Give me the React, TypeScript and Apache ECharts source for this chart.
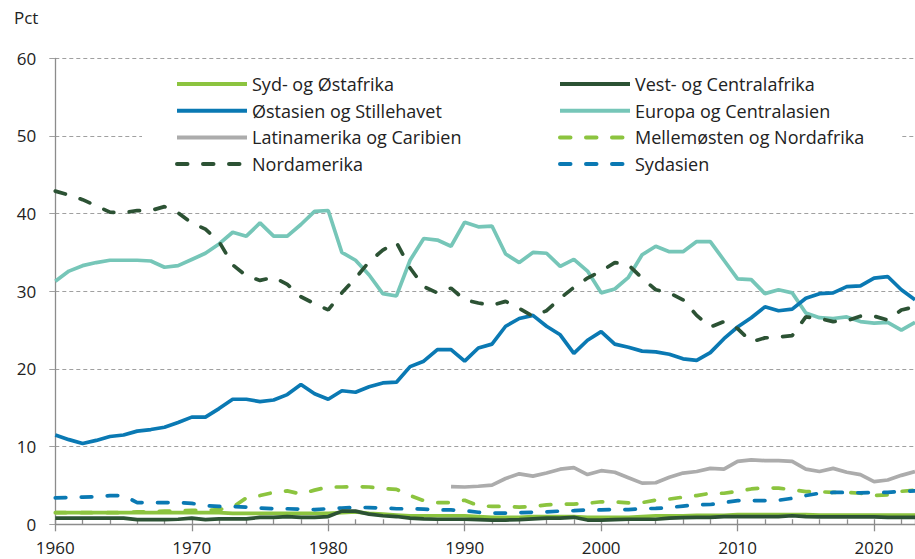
import React, { useEffect, useRef } from "react";
import * as echarts from "echarts";

const years: number[] = [];
for (let y = 1960; y <= 2023; y++) years.push(y);

const sydOstafrika = [
  1.5, 1.5, 1.5, 1.5, 1.5, 1.5, 1.5, 1.5, 1.5, 1.5,
  1.5, 1.5, 1.5, 1.4, 1.4, 1.4, 1.4, 1.4, 1.4, 1.4,
  1.4, 1.5, 1.6, 1.4, 1.3, 1.2, 1.1, 1.1, 1.1, 1.1,
  1.1, 1.0, 0.9, 0.9, 0.9, 1.0, 1.0, 1.0, 1.0, 0.9,
  0.9, 0.9, 0.9, 1.0, 1.1, 1.1, 1.1, 1.15, 1.15, 1.15,
  1.25, 1.25, 1.25, 1.25, 1.25, 1.25, 1.2, 1.2, 1.2, 1.2,
  1.2, 1.2, 1.2, 1.2,
];
const vestCentralafrika = [
  0.8, 0.8, 0.8, 0.8, 0.8, 0.8, 0.6, 0.6, 0.6, 0.65,
  0.8, 0.6, 0.7, 0.7, 0.7, 0.9, 0.9, 1.0, 0.9, 0.9,
  1.0, 1.7, 1.7, 1.3, 1.1, 1.0, 0.8, 0.7, 0.65, 0.65,
  0.65, 0.6, 0.55, 0.55, 0.6, 0.7, 0.8, 0.8, 0.9, 0.55,
  0.55, 0.6, 0.65, 0.65, 0.65, 0.8, 0.85, 0.9, 0.9, 1.0,
  1.0, 1.0, 1.0, 1.0, 1.1, 1.0, 0.95, 0.95, 0.95, 0.95,
  0.95, 0.9, 0.9, 0.9,
];
const ostasien = [
  11.5, 10.9, 10.4, 10.8, 11.3, 11.5, 12.0, 12.2, 12.5, 13.1,
  13.8, 13.8, 14.9, 16.1, 16.1, 15.8, 16.0, 16.7, 18.0, 16.8,
  16.1, 17.2, 17.0, 17.7, 18.2, 18.3, 20.3, 21.0, 22.5, 22.5,
  21.0, 22.7, 23.2, 25.5, 26.5, 26.9, 25.5, 24.4, 22.0, 23.7,
  24.8, 23.2, 22.8, 22.3, 22.2, 21.9, 21.3, 21.1, 22.1, 23.9,
  25.4, 26.6, 28.0, 27.5, 27.7, 29.1, 29.7, 29.8, 30.6, 30.7,
  31.7, 31.9, 30.2, 28.9,
];
const europa = [
  31.3, 32.6, 33.3, 33.7, 34.0, 34.0, 34.0, 33.9, 33.1, 33.3,
  34.1, 34.9, 36.1, 37.6, 37.1, 38.8, 37.1, 37.1, 38.6, 40.3,
  40.4, 35.0, 34.0, 32.1, 29.7, 29.4, 34.0, 36.8, 36.6, 35.8,
  38.9, 38.3, 38.4, 34.8, 33.7, 35.0, 34.9, 33.2, 34.1, 32.6,
  29.8, 30.3, 31.8, 34.7, 35.8, 35.1, 35.1, 36.4, 36.4, 34.0,
  31.6, 31.5, 29.7, 30.2, 29.8, 27.2, 26.6, 26.5, 26.7, 26.1,
  25.9, 26.0, 25.0, 26.0,
];
const latinamerika = [
  null, null, null, null, null, null, null, null, null, null,
  null, null, null, null, null, null, null, null, null, null,
  null, null, null, null, null, null, null, null, null, 4.85,
  4.8, 4.9, 5.05, 5.9, 6.5, 6.2, 6.6, 7.1, 7.3, 6.4,
  6.9, 6.7, 6.0, 5.3, 5.35, 6.05, 6.6, 6.8, 7.2, 7.1,
  8.1, 8.3, 8.2, 8.2, 8.1, 7.1, 6.8, 7.2, 6.7, 6.4,
  5.5, 5.7, 6.3, 6.8,
];
const mellemosten = [
  1.5, 1.5, 1.5, 1.5, 1.5, 1.5, 1.6, 1.6, 1.7, 1.7,
  1.8, 1.8, 1.9, 2.2, 3.4, 3.7, 4.1, 4.3, 3.9, 4.4,
  4.8, 4.8, 4.85, 4.8, 4.6, 4.5, 3.7, 3.05, 2.8, 2.8,
  3.1, 2.4, 2.3, 2.3, 2.2, 2.3, 2.5, 2.6, 2.6, 2.7,
  2.9, 2.9, 2.75, 2.8, 3.1, 3.25, 3.5, 3.7, 4.0, 4.0,
  4.25, 4.55, 4.7, 4.65, 4.45, 4.2, 4.2, 4.1, 4.1, 4.0,
  3.7, 3.8, 4.25, 4.4,
];
const nordamerika = [
  42.9, 42.4, 41.8, 41.0, 40.2, 40.1, 40.4, 40.4, 40.9, 40.1,
  38.8, 38.0, 36.4, 33.4, 32.0, 31.4, 31.8, 30.9, 29.3, 28.4,
  27.6, 29.8, 31.7, 33.8, 35.3, 36.3, 33.0, 30.6, 29.8, 30.4,
  28.9, 28.5, 28.2, 28.7, 27.8, 26.8, 27.5, 29.1, 30.5, 31.7,
  32.6, 33.7, 33.4, 31.7, 30.2, 29.8, 28.9, 26.9, 25.4, 26.1,
  25.2, 23.5, 24.0, 24.1, 24.3, 26.7, 26.5, 26.1, 26.2, 26.8,
  26.8, 26.3, 27.6, 28.0,
];
const sydasien = [
  3.4, 3.45, 3.5, 3.55, 3.7, 3.7, 2.8, 2.8, 2.8, 2.8,
  2.7, 2.4, 2.3, 2.3, 2.2, 2.1, 2.0, 2.0, 1.95, 1.9,
  2.0, 2.1, 2.2, 2.15, 2.1, 2.0, 2.0, 1.95, 1.85, 1.85,
  1.75, 1.55, 1.45, 1.45, 1.5, 1.55, 1.6, 1.7, 1.75, 1.85,
  1.85, 1.9, 1.9, 2.0, 2.05, 2.15, 2.35, 2.5, 2.55, 2.8,
  3.05, 3.05, 3.05, 3.1, 3.35, 3.7, 4.0, 4.1, 4.1, 4.05,
  4.1, 4.1, 4.25, 4.3,
];

const yTicks = [0, 10, 20, 30, 40, 50, 60];

const C_LIGHTGREEN = "#8cc43f";
const C_DARKGREEN = "#2c5234";
const C_BLUE = "#0a79b3";
const C_TEAL = "#76c6b8";
const C_GRAY = "#acacac";

const FONT = "'Open Sans', 'Noto Sans', sans-serif";

function pairs(vals: (number | null)[]) {
  return years.map((y, i) => [y, vals[i]]);
}

export default function App() {
  const ref = useRef<HTMLDivElement>(null);
  useEffect(() => {
    if (!ref.current) return;
    const chart = echarts.init(ref.current, undefined, { renderer: "svg" });
    const dash = [10.5, 15.5];
    const lw = 3.7;
    const mk = (name: string, data: (number | null)[], color: string, dashed: boolean, z: number) => ({
      name,
      type: "line",
      xAxisIndex: 0,
      data: pairs(data),
      symbol: "none",
      showSymbol: false,
      connectNulls: false,
      z,
      lineStyle: dashed
        ? { color, width: lw, type: dash, cap: "round" }
        : { color, width: lw, type: "solid" },
      itemStyle: { color },
    });
    const legendCommon = {
      orient: "vertical",
      itemWidth: 70,
      itemHeight: 14,
      itemGap: 6.7,
      padding: 0,
      itemStyle: { opacity: 0 },
      lineStyle: { width: 4 },
      textStyle: { fontFamily: FONT, fontSize: 18, color: "#222", lineHeight: 20 },
      selectedMode: false,
    };
    chart.setOption({
      animation: false,
      textStyle: { fontFamily: FONT },
      grid: { left: 55.3, top: 58.3, width: 866.25, height: 466 },
      xAxis: [
        {
          type: "value",
          min: 1960,
          max: 2023,
          interval: 2,
          axisLine: { show: true, lineStyle: { color: "#8c8c8c", width: 1.3 } },
          axisTick: { show: true, inside: true, length: 5, lineStyle: { color: "#8c8c8c", width: 1.3 } },
          axisLabel: { show: false },
          splitLine: { show: false },
        },
        {
          type: "value",
          position: "bottom",
          min: 1960,
          max: 2023,
          interval: 10,
          axisLine: { show: false },
          axisTick: { show: true, length: 7, lineStyle: { color: "#8c8c8c", width: 1.3 } },
          axisLabel: {
            show: true,
            showMaxLabel: false,
            margin: 15,
            fontSize: 17,
            color: "#222",
            fontFamily: FONT,
            formatter: (v: number) => (v % 10 === 0 ? String(v) : ""),
          },
          splitLine: { show: false },
        },
      ],
      yAxis: {
        type: "value",
        min: yTicks[0],
        max: yTicks[yTicks.length - 1],
        interval: 10,
        axisLine: { show: true, lineStyle: { color: "#8c8c8c", width: 1.3 } },
        axisTick: { show: true, length: 6, lineStyle: { color: "#a0a0a0", width: 1 } },
        axisLabel: { fontSize: 17, color: "#222", margin: 19, fontFamily: FONT },
        splitLine: { show: true, lineStyle: { color: "#a0a0a0", type: [4, 3], width: 1 } },
      },
      graphic: [
        {
          type: "rect",
          z: 1,
          shape: { x: 142, y: 66, width: 759, height: 120 },
          style: { fill: "#ffffff" },
        },
        {
          type: "text",
          left: 14,
          top: 9,
          style: { text: "Pct", fontSize: 17, fill: "#222", fontFamily: FONT },
        },
      ],
      legend: [
        {
          ...legendCommon,
          left: 175,
          top: 74,
          data: ["Syd- og Østafrika", "Østasien og Stillehavet", "Latinamerika og Caribien", "Nordamerika"],
        },
        {
          ...legendCommon,
          left: 558,
          top: 74,
          data: ["Vest- og Centralafrika", "Europa og Centralasien", "Mellemøsten og Nordafrika", "Sydasien"],
        },
      ],
      series: [
        mk("Europa og Centralasien", europa, C_TEAL, false, 2),
        mk("Østasien og Stillehavet", ostasien, C_BLUE, false, 3),
        mk("Latinamerika og Caribien", latinamerika, C_GRAY, false, 3),
        mk("Syd- og Østafrika", sydOstafrika, C_LIGHTGREEN, false, 3),
        mk("Mellemøsten og Nordafrika", mellemosten, C_LIGHTGREEN, true, 4),
        mk("Sydasien", sydasien, C_BLUE, true, 4),
        mk("Vest- og Centralafrika", vestCentralafrika, C_DARKGREEN, false, 5),
        mk("Nordamerika", nordamerika, C_DARKGREEN, true, 6),
      ],
    });
    return () => chart.dispose();
  }, []);
  return <div ref={ref} style={{ width: 915, height: 559, position: "absolute", left: 0, top: 0 }} />;
}
